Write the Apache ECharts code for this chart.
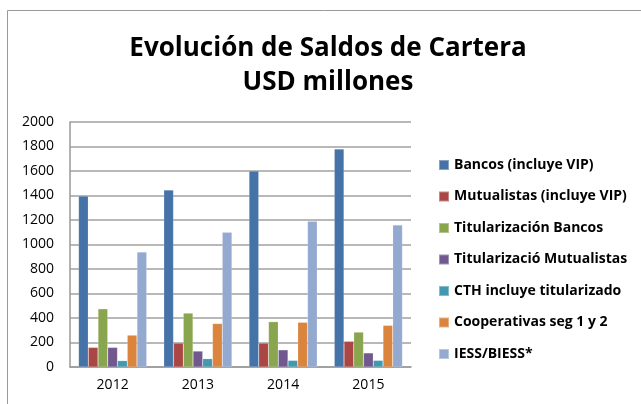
<!DOCTYPE html>
<html>
<head>
<meta charset="utf-8">
<script src="https://cdn.jsdelivr.net/npm/echarts@6/dist/echarts.min.js"></script>
<style>
  html, body { margin: 0; padding: 0; background: #fff; }
  #chart { width: 641px; height: 404px; }
</style>
</head>
<body>
<div id="chart"></div>
<script>
const years = ["2012", "2013", "2014", "2015"];
const bancos = [1395, 1445, 1600, 1780];
const mutualistas = [160, 195, 195, 210];
const titBancos = [475, 440, 370, 285];
const titMutualistas = [160, 130, 140, 115];
const cth = [52, 68, 54, 54];
const cooperativas = [260, 355, 365, 340];
const iess = [938, 1100, 1190, 1160];

const seriesNames = [
  "Bancos (incluye VIP)",
  "Mutualistas (incluye VIP)",
  "Titularización Bancos",
  "Titularizació Mutualistas",
  "CTH incluye titularizado",
  "Cooperativas seg 1 y 2",
  "IESS/BIESS*"
];
const seriesData = [bancos, mutualistas, titBancos, titMutualistas, cth, cooperativas, iess];
const colors = ["#4572A7", "#AA4643", "#89A54E", "#71588F", "#4198AF", "#DB843D", "#93A9CF"];

const font = "Open Sans";
const myChart = echarts.init(document.getElementById("chart"));

const option = {
  color: colors,
  animation: false,
  title: {
    text: "Evolución de Saldos de Cartera\nUSD millones",
    left: 323,
    textAlign: "center",
    top: 27,
    textStyle: {
      fontFamily: font,
      fontWeight: "bold",
      fontSize: 26,
      lineHeight: 34,
      color: "#000"
    }
  },
  legend: {
    orient: "vertical",
    left: 438,
    top: 158,
    padding: 0,
    itemWidth: 10,
    itemHeight: 10,
    itemGap: 17.5,
    icon: "rect",
    textStyle: {
      fontFamily: font,
      fontWeight: "bold",
      fontSize: 14,
      lineHeight: 14,
      color: "#000"
    },
    data: seriesNames
  },
  grid: {
    left: 70,
    right: 230,
    top: 122,
    bottom: 37
  },
  xAxis: {
    type: "category",
    data: years,
    axisLine: { lineStyle: { color: "#999", width: 1.5 } },
    axisTick: { show: false },
    axisLabel: {
      fontFamily: font,
      fontSize: 14,
      color: "#000",
      margin: 11
    }
  },
  yAxis: {
    type: "value",
    min: 0,
    max: 2000,
    interval: 200,
    axisLine: { show: true, lineStyle: { color: "#999", width: 1.5 } },
    axisTick: { show: false },
    splitLine: { lineStyle: { color: "#a0a0a0", width: 1.5 } },
    axisLabel: {
      fontFamily: font,
      fontSize: 14,
      color: "#000",
      margin: 16,
      formatter: v => String(v)
    }
  },
  series: seriesNames.map((name, i) => ({
    name: name,
    type: "bar",
    data: seriesData[i],
    barGap: "0%",
    barCategoryGap: "20%",
    itemStyle: { borderColor: "rgba(255,255,255,0.35)", borderWidth: 0.5 }
  })),
  graphic: [
    {
      type: "polyline",
      shape: { points: [[7.5, 404], [7.5, 10.5], [641, 10.5]] },
      style: { stroke: "#999", lineWidth: 1, fill: null }
    }
  ]
};

option && myChart.setOption(option);
</script>
</body>
</html>
